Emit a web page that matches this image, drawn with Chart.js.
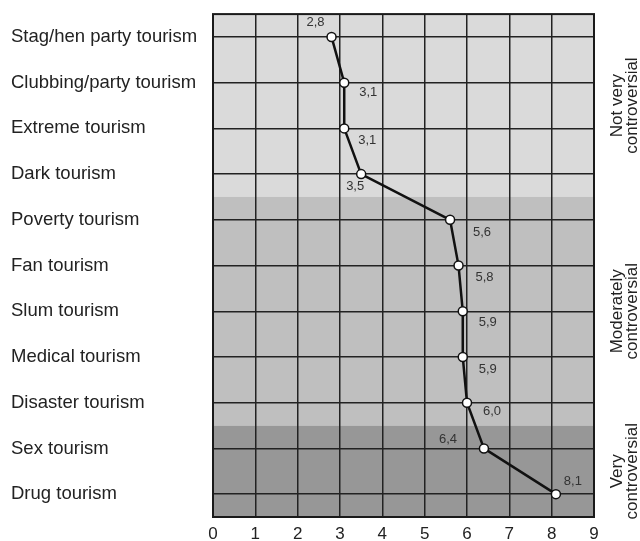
<!DOCTYPE html>
<html>
<head>
<meta charset="utf-8">
<script src="https://cdn.jsdelivr.net/npm/chart.js@4"></script>
<style>
  html, body { margin: 0; padding: 0; background: #fff; }
  #wrap { width: 640px; height: 541px; }
</style>
</head>
<body>
<div id="wrap"><canvas id="tourChart"></canvas></div>
<script>
// categories, top to bottom
var categories = ['Stag/hen party tourism', 'Clubbing/party tourism', 'Extreme tourism', 'Dark tourism',
  'Poverty tourism', 'Fan tourism', 'Slum tourism', 'Medical tourism', 'Disaster tourism',
  'Sex tourism', 'Drug tourism'];
var scores = [2.8, 3.1, 3.1, 3.5, 5.6, 5.8, 5.9, 5.9, 6.0, 6.4, 8.1];
var xTicks = [0, 1, 2, 3, 4, 5, 6, 7, 8, 9];

// groups: label lines, first and last category index
var groupLabels = [['Not very', 'controversial'], ['Moderately', 'controversial'], ['Very', 'controversial']];
var groupFirst = [0, 4, 9];
var groupLast = [3, 8, 10];
var groupColors = ['#dadada', '#bfbfbf', '#979797'];

// label offsets (px from point), style only
var labelDx = [-16, 24, 23, -6, 32, 26, 25, 25, 25, -36, 17];
var labelDy = [-15, 10, 12, 12, 13, 12, 11, 12, 9, -9, -13];

var bandsPlugin = {
  id: 'bands',
  beforeDraw: function(chart) {
    var ctx = chart.ctx, area = chart.chartArea, y = chart.scales.y;
    var half = (y.getPixelForValue(1) - y.getPixelForValue(0)) / 2;
    ctx.save();
    groupFirst.forEach(function(first, i) {
      var top = i === 0 ? area.top : y.getPixelForValue(first) - half;
      var bottom = i === groupFirst.length - 1 ? area.bottom : y.getPixelForValue(groupLast[i]) + half;
      ctx.fillStyle = groupColors[i];
      ctx.fillRect(area.left, top, area.right - area.left, bottom - top);

      // group caption, rotated on the right
      ctx.save();
      ctx.translate(area.right + 31, (top + bottom) / 2);
      ctx.rotate(-Math.PI / 2);
      ctx.fillStyle = '#222';
      ctx.font = '17px "Liberation Sans", Arial, sans-serif';
      ctx.textAlign = 'center';
      ctx.textBaseline = 'middle';
      ctx.fillText(groupLabels[i][0], 0, -8);
      ctx.fillText(groupLabels[i][1], 0, 7);
      ctx.restore();
    });
    ctx.restore();
  },
  beforeDatasetsDraw: function(chart) {
    var ctx = chart.ctx, area = chart.chartArea;
    ctx.save();
    ctx.strokeStyle = '#1a1a1a';
    ctx.lineWidth = 2;
    ctx.strokeRect(area.left, area.top, area.right - area.left, area.bottom - area.top);
    ctx.restore();
  },
  afterDatasetsDraw: function(chart) {
    var ctx = chart.ctx, meta = chart.getDatasetMeta(0);
    ctx.save();
    ctx.fillStyle = '#333';
    ctx.font = '13px "Liberation Sans", Arial, sans-serif';
    ctx.textAlign = 'center';
    ctx.textBaseline = 'middle';
    meta.data.forEach(function(pt, i) {
      ctx.fillText(scores[i].toFixed(1).replace('.', ','), pt.x + labelDx[i], pt.y + labelDy[i]);
    });
    ctx.restore();
  }
};

document.addEventListener('DOMContentLoaded', function() {
  var ctx = document.getElementById('tourChart').getContext('2d');
  new Chart(ctx, {
    type: 'line',
    data: {
      labels: categories,
      datasets: [{
        data: scores,
        borderColor: '#111',
        borderWidth: 2.5,
        pointBackgroundColor: '#fff',
        pointBorderColor: '#111',
        pointBorderWidth: 1.5,
        pointRadius: 4.5,
        tension: 0
      }]
    },
    options: {
      indexAxis: 'y',
      responsive: true,
      maintainAspectRatio: false,
      animation: false,
      layout: { padding: { left: 11, top: 14, right: 46, bottom: 0 } },
      plugins: {
        legend: { display: false },
        tooltip: { enabled: false }
      },
      scales: {
        x: {
          type: 'linear',
          min: 0,
          max: 9,
          afterBuildTicks: function(scale) {
            scale.ticks = xTicks.map(function(v) { return { value: v }; });
          },
          grid: { color: '#222', lineWidth: 1.5, drawTicks: false },
          border: { display: false },
          ticks: {
            color: '#222',
            padding: 7,
            font: { size: 17, family: '"Liberation Sans", Arial, sans-serif' }
          },
          afterFit: function(scale) { scale.height = 24; }
        },
        y: {
          type: 'category',
          offset: true,
          grid: { offset: false, color: '#222', lineWidth: 1.5, drawTicks: false },
          border: { display: false },
          ticks: {
            color: '#222',
            crossAlign: 'far',
            font: { size: 18.5, family: '"Liberation Sans", Arial, sans-serif' }
          },
          afterFit: function(scale) { scale.width = 202; }
        }
      }
    },
    plugins: [bandsPlugin]
  });
});
</script>
</body>
</html>
